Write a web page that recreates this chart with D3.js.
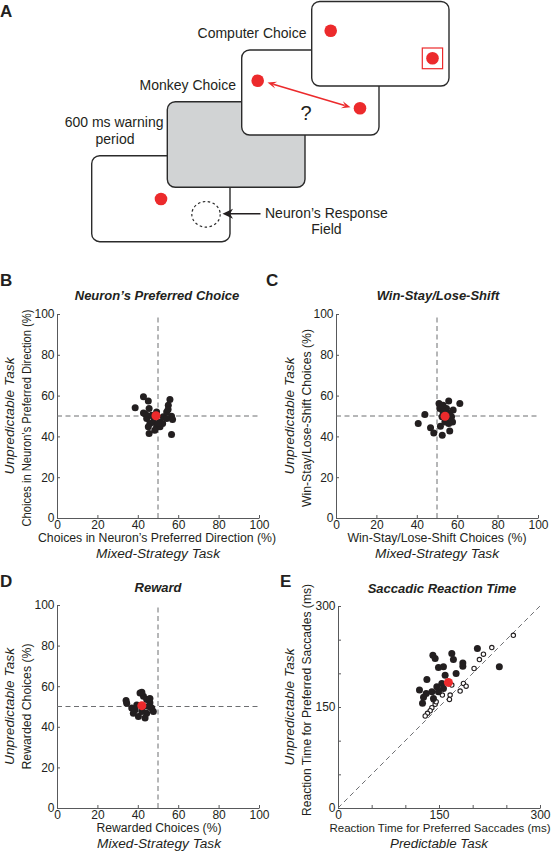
<!DOCTYPE html>
<html><head><meta charset="utf-8">
<script src="https://cdn.jsdelivr.net/npm/d3@7"></script>
<style>
body{margin:0;background:#fff}
svg{display:block;font-family:"Liberation Sans",Arial,Helvetica,sans-serif}
</style>
</head><body>
<svg id="fig" width="556" height="852"></svg>
<script>
// ---------------- DATA ----------------
// B: Neuron's preferred choice (% choices in preferred direction)
const prefMixed  = [38.7,42.8,45.2,42.8,45.6,44.4,46,45.2,45.6,47.7,49.3,51,52.6,54.3,55.1,55.9,55,56.7,57.2,56.7,51,47.7,49.3,46.9,52.3,54.3,48.4,43.9,50.1];
const prefUnpred = [54.0,59.4,57.4,51.5,53.7,48.8,46.3,44.7,41.4,49.6,44.7,47.1,49.6,52,55.3,58.1,53.2,49.9,48.3,40.9,44.7,47.1,52,50.4,46.3,48.8,43,50.8,46.3];
const prefMean   = [49, 50.1];
// C: Win-stay / lose-shift choices (%)
const wslsMixed  = [40.7,44,46.8,48.4,52.6,56.3,51.7,53.9,51,55.8,61.3,51.4,54.7,58,57.2,57.7,53,56.3,54.7,52.5,55.8,53];
const wslsUnpred = [46.3,50.7,44.2,41.7,40.6,42.7,45,47.1,56.1,57.3,56.1,53.7,53.7,52.9,49.6,47.1,52,51.2,48.8,49.6,46.3,55.3];
const wslsMean   = [54, 49.9];
// D: Rewarded choices (%)
const rewMixed   = [34.2,34.5,37,37.8,39.5,41.1,42.8,44.4,46,46.9,47.7,44.4,43.6,40.3,42,38.7,42.8,45.4,42,46];
const rewUnpred  = [53,51.6,49.2,46.7,50.8,56.6,55,53.4,51.8,49.2,47.5,46.7,44.3,45.1,47.5,48.4,50,50,57,54];
const rewMean    = [42, 50.4];
// E: Saccadic reaction time (ms), filled and open symbols
const rtFilledPred   = [140.9,144.3,169,171.4,149.2,156.6,185.4,185.4,207,239.6,132,159.1,175.4,146.8,154.2,156.6,149.2,121,131,127,139.4,141.8,125.5];
const rtFilledUnpred = [226.9,222,229.4,220.5,208.7,209.6,215.5,210.5,236.8,209.6,190.9,197.3,199.8,180,185,177.6,172.6,175.1,170.2,164.3,172.6,162.8,155.4];
const rtOpenPred     = [169,166.5,165.5,181.4,186.3,190.3,202.1,210,216,228.4,260.4,141.8,144.3,139.4,136.9,132.9,129.5,145.8,155];
const rtOpenUnpred   = [182.5,167.7,161.3,173.6,185,181,207.2,220.5,228.4,238.3,256.5,160.3,153.9,148.9,144.4,140.6,136.6,157.8,167.7];
const rtMean         = [164, 186.5];
// Tick labels
const pctTicks = [0,20,40,60,80,100];
const rtTicks  = [0,50,100,150,200,250,300];
const rtLabeled = [0,150,300];

// ---------------- DRAW ----------------
const svg = d3.select("#fig");
const INK = "#231f20", AXC = "#58595b", RED = "#ec2a2c", DASH = "#6d6e71";

function letter(t, x, y){
  svg.append("text").attr("x",x).attr("y",y).text(t)
    .attr("font-weight","bold").attr("font-size",17).attr("fill",INK);
}
function fit(sel, len){
  if(len) sel.attr("textLength",len).attr("lengthAdjust","spacingAndGlyphs");
  return sel;
}

function panel(o){
  const g = svg.append("g");
  const x = d3.scaleLinear().domain(o.domain).range(o.xr);
  const y = d3.scaleLinear().domain(o.domain).range(o.yr);
  const fmt = d => (o.labeled ? (o.labeled.includes(d) ? d : "") : d);

  const xa = d3.axisBottom(x).tickValues(o.ticks).tickFormat(fmt)
    .tickSizeInner(-3).tickSizeOuter(0).tickPadding(2);
  const ya = d3.axisLeft(y).tickValues(o.ticks).tickFormat(fmt)
    .tickSizeInner(-3).tickSizeOuter(0).tickPadding(2.5);
  const gx = g.append("g").attr("transform",`translate(0,${o.yr[0]})`).call(xa);
  const gy = g.append("g").attr("transform",`translate(${o.xr[0]},0)`).call(ya);
  [gx,gy].forEach(a=>{
    a.select(".domain").attr("stroke",AXC).attr("stroke-width",1);
    a.selectAll(".tick line").attr("stroke",AXC);
    a.selectAll(".tick text").attr("fill",INK).attr("font-size",12)
      .attr("font-family","'Liberation Sans',Arial,sans-serif");
  });

  // reference dashed lines
  const dl = g.append("g").attr("stroke",DASH).attr("stroke-width",1)
    .attr("stroke-dasharray","5,3.5").attr("fill","none");
  if(o.diagonal){
    dl.append("line").attr("x1",x(o.domain[0])).attr("y1",y(o.domain[0]))
      .attr("x2",x(o.domain[1])).attr("y2",y(o.domain[1]));
  } else {
    dl.append("line").attr("x1",x(50)).attr("x2",x(50)).attr("y1",y(0)).attr("y2",y(100));
    dl.append("line").attr("x1",x(0)).attr("x2",x(100)).attr("y1",y(50)).attr("y2",y(50));
  }

  // open symbols
  if(o.openX){
    g.append("g").selectAll("circle").data(d3.zip(o.openX,o.openY)).join("circle")
      .attr("cx",d=>x(d[0])).attr("cy",d=>y(d[1])).attr("r",2.2)
      .attr("fill","#fff").attr("stroke",INK).attr("stroke-width",1.1);
  }
  // filled symbols
  g.append("g").selectAll("circle").data(d3.zip(o.px,o.py)).join("circle")
    .attr("cx",d=>x(d[0])).attr("cy",d=>y(d[1])).attr("r",3.5).attr("fill",INK);
  // mean
  g.append("circle").attr("cx",x(o.mean[0])).attr("cy",y(o.mean[1])).attr("r",4.5).attr("fill",RED);

  // title
  g.append("text").attr("x",o.titleX).attr("y",o.titleY).attr("text-anchor","middle")
    .attr("font-weight","bold").attr("font-style","italic").attr("font-size",13)
    .attr("fill",INK).text(o.title);
  // x labels
  const xc = (o.xr[0]+o.xr[1])/2;
  fit(g.append("text").attr("x",o.xl1x||xc).attr("y",o.xl1y).attr("text-anchor","middle")
    .attr("font-size",o.xl1fs||12.3).attr("fill",INK).text(o.xl1), o.xl1w);
  fit(g.append("text").attr("x",o.xl2x||xc).attr("y",o.xl1y+16).attr("text-anchor","middle")
    .attr("font-size",12.5).attr("font-style","italic").attr("fill",INK).text(o.xl2), o.xl2w);
  // y labels
  const yc = (o.yr[0]+o.yr[1])/2;
  fit(g.append("text").attr("transform",`translate(${o.yl1x},${o.yc1||yc}) rotate(-90)`)
    .attr("text-anchor","middle").attr("font-size",12.5).attr("font-style","italic")
    .attr("fill",INK).text(o.yl1), 117);
  fit(g.append("text").attr("transform",`translate(${o.yl1x+17},${o.yc2||yc}) rotate(-90)`)
    .attr("text-anchor","middle").attr("font-size",12.3).attr("fill",INK).text(o.yl2), o.yl2w);
}

// ---- Panel A (task diagram) ----
const diagram = {
  screens: [ // back to front
    {x:91.7, y:155.7, w:138.3, h:86, fill:"#fff"},
    {x:167.3, y:101.7, w:137.7, h:85.6, fill:"#d1d3d4"},
    {x:241.7, y:50, w:137.3, h:85, fill:"#fff"},
    {x:311.7, y:1.5, w:137.3, h:84.5, fill:"#fff"}
  ],
  labels: [
    {t:"Computer Choice", x:306.5, y:38, a:"end"},
    {t:"Monkey Choice", x:236, y:90, a:"end"},
    {t:"600 ms warning", x:163.5, y:127, a:"end"},
    {t:"period", x:115, y:144, a:"middle"},
    {t:"Neuron\u2019s Response", x:265, y:218, a:"start"},
    {t:"Field", x:326.5, y:234, a:"middle"}
  ]
};
const gA = svg.append("g");
letter("A", 0, 17);
diagram.screens.forEach((s,i)=>{
  const gs = gA.append("g");
  gs.append("rect").attr("x",s.x).attr("y",s.y).attr("width",s.w).attr("height",s.h)
    .attr("rx",8).attr("ry",8).attr("fill",s.fill).attr("stroke","#2b2b2b").attr("stroke-width",1.4);
  if(i===0){
    gs.append("circle").attr("cx",161).attr("cy",199).attr("r",6.3).attr("fill",RED);
    gs.append("ellipse").attr("cx",206).attr("cy",214.3).attr("rx",14.2).attr("ry",12.8)
      .attr("fill","none").attr("stroke","#2b2b2b").attr("stroke-width",1.2).attr("stroke-dasharray","2.5,2.5");
  }
  if(i===2){
    gs.append("circle").attr("cx",257.7).attr("cy",80.7).attr("r",6.3).attr("fill",RED);
    gs.append("circle").attr("cx",360).attr("cy",108.3).attr("r",6.3).attr("fill",RED);
    const x1=267.5,y1=82.6,x2=350.5,y2=107.3;
    const ang=Math.atan2(y2-y1,x2-x1);
    gs.append("line").attr("x1",x1+6*Math.cos(ang)).attr("y1",y1+6*Math.sin(ang))
      .attr("x2",x2-6*Math.cos(ang)).attr("y2",y2-6*Math.sin(ang))
      .attr("stroke",RED).attr("stroke-width",1.6);
    const head=(px,py,a)=>{
      const L=9,W=3.6;
      const bx=px-L*Math.cos(a), by=py-L*Math.sin(a);
      const nx=-Math.sin(a), ny=Math.cos(a);
      gs.append("path").attr("d",`M${px},${py}L${bx+W*nx},${by+W*ny}L${px-0.6*L*Math.cos(a)},${py-0.6*L*Math.sin(a)}L${bx-W*nx},${by-W*ny}Z`)
        .attr("fill",RED);
    };
    head(x2,y2,ang); head(x1,y1,ang+Math.PI);
    gs.append("text").attr("x",306).attr("y",120).attr("text-anchor","middle")
      .attr("font-size",20).attr("fill",INK).text("?");
  }
  if(i===3){
    gs.append("circle").attr("cx",330.7).attr("cy",30.7).attr("r",6.3).attr("fill",RED);
    gs.append("circle").attr("cx",432.5).attr("cy",58.3).attr("r",6.3).attr("fill",RED);
    gs.append("rect").attr("x",422.3).attr("y",48).attr("width",20.3).attr("height",20.7)
      .attr("fill","none").attr("stroke",RED).attr("stroke-width",1.2);
  }
});
gA.append("line").attr("x1",260.5).attr("y1",213.8).attr("x2",228).attr("y2",213.8)
  .attr("stroke",INK).attr("stroke-width",1.4);
gA.append("path").attr("d","M222.5,213.8L233,208.8L230,213.8L233,218.8Z").attr("fill",INK);
diagram.labels.forEach(l=>{
  gA.append("text").attr("x",l.x).attr("y",l.y).attr("text-anchor",l.a)
    .attr("font-size",14).attr("fill",INK).text(l.t);
});

// ---- Panels B-E ----
letter("B", 0, 286);
letter("C", 266, 286);
letter("D", 0, 587);
letter("E", 280, 587);

panel({domain:[0,100], xr:[57,259], yr:[518,314], ticks:pctTicks,
  px:prefMixed, py:prefUnpred, mean:prefMean,
  title:"Neuron\u2019s Preferred Choice", titleX:157, titleY:300,
  xl1:"Choices in Neuron\u2019s Preferred Direction (%)", xl1x:157, xl1y:542, xl1w:238, xl2:"Mixed-Strategy Task", xl2w:124,
  yl1:"Unpredictable Task", yl1x:14, yl2:"Choices in Neuron\u2019s Preferred Direction (%)", yl2w:217, yc2:418});

panel({domain:[0,100], xr:[336,538], yr:[518,314], ticks:pctTicks,
  px:wslsMixed, py:wslsUnpred, mean:wslsMean,
  title:"Win-Stay/Lose-Shift", titleX:438, titleY:300,
  xl1:"Win-Stay/Lose-Shift Choices (%)", xl1x:437, xl1y:542, xl1w:179, xl2:"Mixed-Strategy Task", xl2w:124,
  yl1:"Unpredictable Task", yl1x:294, yl2:"Win-Stay/Lose-Shift Choices (%)", yl2w:178, yc2:418});

panel({domain:[0,100], xr:[57,259], yr:[808,605], ticks:pctTicks,
  px:rewMixed, py:rewUnpred, mean:rewMean,
  title:"Reward", titleX:158, titleY:592,
  xl1:"Rewarded Choices (%)", xl1x:159, xl1y:832, xl1w:125, xl2:"Mixed-Strategy Task", xl2x:159, xl2w:124,
  yl1:"Unpredictable Task", yl1x:14, yl2:"Rewarded Choices (%)", yl2w:126});

panel({domain:[0,300], xr:[338,540], yr:[808,606], ticks:rtTicks, labeled:rtLabeled, diagonal:true,
  px:rtFilledPred, py:rtFilledUnpred, openX:rtOpenPred, openY:rtOpenUnpred, mean:rtMean,
  title:"Saccadic Reaction Time", titleX:442, titleY:593,
  xl1:"Reaction Time for Preferred Saccades (ms)", xl1x:440, xl1y:832, xl1fs:11.2, xl1w:221, xl2:"Predictable Task", xl2x:439, xl2w:98,
  yl1:"Unpredictable Task", yl1x:294, yl2:"Reaction Time for Preferred Saccades (ms)", yl2w:232, yc2:700});
</script>
</body></html>
